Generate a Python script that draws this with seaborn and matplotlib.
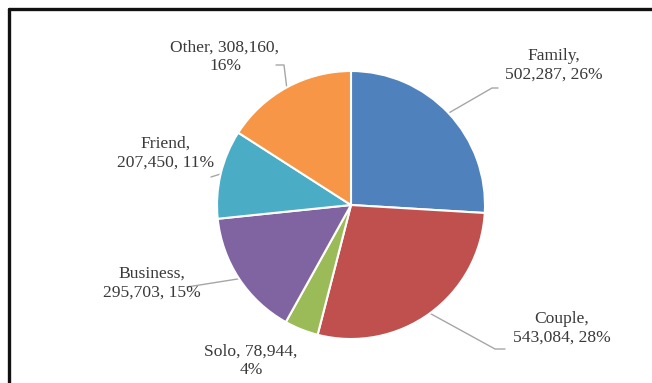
import numpy as np
import matplotlib
matplotlib.use("Agg")
import matplotlib.pyplot as plt
import seaborn as sns
from matplotlib.lines import Line2D

categories = ["Family", "Couple", "Solo", "Business", "Friend", "Other"]
counts = [502287, 543084, 78944, 295703, 207450, 308160]
percents = ["26%", "28%", "4%", "15%", "11%", "16%"]
colors = ["#4F81BD", "#C0504D", "#9BBB59", "#8064A2", "#4BACC6", "#F79646"]

# where the line break falls in each label: after the name or after the count
break_after_name = [True, True, False, True, True, False]

# label layout, in pixels from the top-left corner
label_xy = [(554, 65), (562, 328), (251, 361), (152, 283), (166, 153), (225, 57)]
leader_knees = [
    [(492, 88), (498, 88)],
    [(495, 349), (505, 349)],
    [],
    [(187, 287)],
    [(211, 177)],
    [(284, 65), (276, 65)],
]

W, H = 652, 383
center = (351, 205)
radius = 134


def fy(y):
    return H - y


def main():
    sns.set_style("white")
    plt.rcParams["font.family"] = ["Liberation Serif", "DejaVu Serif"]

    fig = plt.figure(figsize=(W / 100, H / 100), dpi=100)
    ax = fig.add_axes([0, 0, 1, 1])

    wedges, _ = ax.pie(
        counts,
        colors=colors,
        startangle=90,
        counterclock=False,
        center=(center[0], fy(center[1])),
        radius=radius,
        wedgeprops=dict(edgecolor="white", linewidth=1.5),
        frame=True,
    )
    ax.set_xlim(0, W)
    ax.set_ylim(0, H)
    ax.set_aspect("auto")
    ax.axis("off")

    for i, w in enumerate(wedges):
        name = categories[i]
        num = f"{counts[i]:,}"
        if break_after_name[i]:
            txt = f"{name},\n{num}, {percents[i]}"
        else:
            txt = f"{name}, {num},\n{percents[i]}"
        lx, ly = label_xy[i]
        ax.text(lx, fy(ly), txt, ha="center", va="center", fontsize=12.6,
                color="#3a3a3a", linespacing=1.2)

        knees = leader_knees[i]
        if knees:
            mid = np.deg2rad((w.theta1 + w.theta2) / 2)
            sx = center[0] + radius * np.cos(mid)
            sy = fy(center[1]) + radius * np.sin(mid)
            xs = [sx] + [k[0] for k in knees]
            ys = [sy] + [fy(k[1]) for k in knees]
            ax.plot(xs, ys, color="#A6A6A6", lw=1.0, zorder=0.5)

    # frame seen at the top and left of the original
    fig.add_artist(Line2D([9 / W, 1], [1 - 9 / H, 1 - 9 / H], color="#111111",
                          lw=2.4, transform=fig.transFigure))
    fig.add_artist(Line2D([9 / W, 9 / W], [0, 1 - 9 / H], color="#111111",
                          lw=2.4, transform=fig.transFigure))

    fig.savefig("out.png", dpi=100)


if __name__ == "__main__":
    main()
